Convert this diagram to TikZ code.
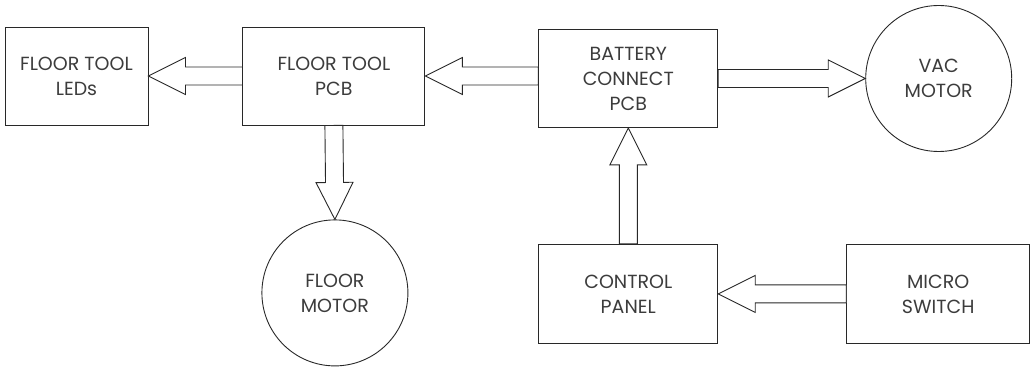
\documentclass[tikz,border=0pt]{standalone}
\usepackage{fontspec}
\setmainfont{Poppins}
\usepackage{xcolor}
\definecolor{edge}{RGB}{40,40,40}
\definecolor{label}{RGB}{60,60,60}
\usetikzlibrary{positioning,calc}
\newcommand{\shaftw}{9pt}
\newcommand{\headw}{18.5pt}
\newcommand{\headl}{37pt}
\tikzset{
  unit/.style={draw=edge,line width=0.9pt,minimum width=179pt,minimum height=98pt,%
    inner sep=0pt,align=center,text=label,font=\fontsize{19}{25}\selectfont},
  drive/.style={unit,circle,minimum size=146pt},
  blockarrow/.style={draw=edge,line width=0.9pt,fill=white,line join=miter},
}
% hollow block arrow from #1 to #2
\newcommand{\blockarrow}[2]{%
  \coordinate (ba-c) at ($(#2)!\headl!(#1)$);
  \draw[blockarrow] ($(#1)!\shaftw!90:(#2)$) -- ($(ba-c)!\shaftw!-90:(#1)$)
    -- ($(ba-c)!\headw!-90:(#1)$) -- (#2) -- ($(ba-c)!\headw!90:(#1)$)
    -- ($(ba-c)!\shaftw!90:(#1)$) -- ($(#1)!\shaftw!-90:(#2)$) -- cycle;}
\begin{document}
\begin{tikzpicture}[x=1pt,y=-1pt]
\useasboundingbox (0,0) rectangle (1033,371);
\node[unit,minimum width=143pt] (leds) at (76.5,76) {FLOOR TOOL\\LEDs};
\node[unit,minimum width=182pt,right=94pt of leds] (ftpcb) {FLOOR TOOL\\PCB};
\node[unit,right=113pt of ftpcb,yshift=-2.5pt] (bcpcb) {BATTERY\\CONNECT\\PCB};
\node[drive,right=147pt of bcpcb] (vac) {VAC\\MOTOR};
\node[drive,below=94pt of ftpcb,xshift=1pt] (fmotor) {FLOOR\\MOTOR};
\node[unit,minimum height=99pt,below=116pt of bcpcb] (ctrl) {CONTROL\\PANEL};
\node[unit,minimum width=183pt,minimum height=99pt,right=128pt of ctrl] (micro) {MICRO\\SWITCH};
\coordinate (bcin) at (bcpcb.west |- ftpcb.east);
\blockarrow{ftpcb.west}{leds.east}
\blockarrow{bcin}{ftpcb.east}
\blockarrow{bcpcb.east}{vac.west}
\blockarrow{ftpcb.south}{fmotor.north}
\blockarrow{ctrl.north}{bcpcb.south}
\blockarrow{micro.west}{ctrl.east}
\end{tikzpicture}
\end{document}
